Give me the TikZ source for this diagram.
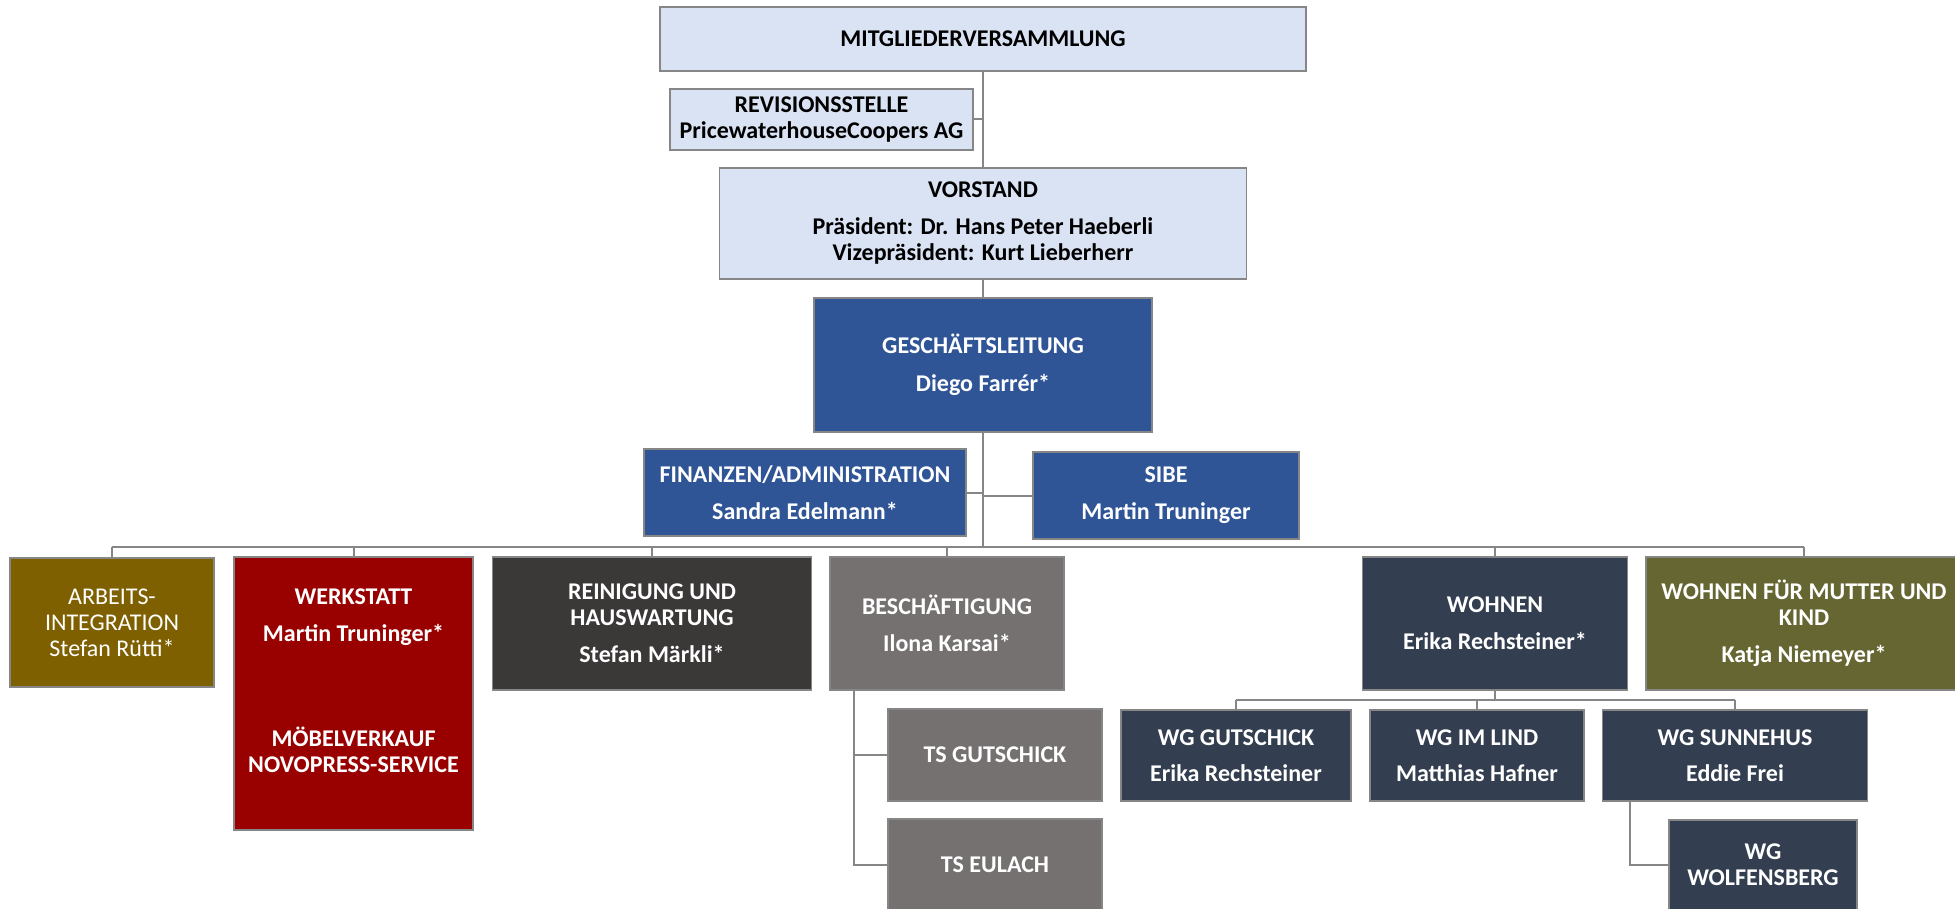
\documentclass[tikz,border=0pt]{standalone}
\usepackage{fontspec}
\setmainfont{Carlito}
\usetikzlibrary{positioning}
\definecolor{hellblau}{HTML}{DAE3F3}
\definecolor{blau}{HTML}{2F5597}
\definecolor{ocker}{HTML}{7F6000}
\definecolor{rot}{HTML}{990000}
\definecolor{anthrazit}{HTML}{3B3838}
\definecolor{grau}{HTML}{767171}
\definecolor{marine}{HTML}{333F50}
\definecolor{oliv}{HTML}{666633}
\definecolor{linie}{HTML}{868686}
\tikzset{
  box/.style={draw=linie, line width=1.5pt, align=center, inner sep=0pt,
    text=white, font=\fontsize{24}{26}\selectfont\bfseries},
  hell/.style={box, fill=hellblau, text=black},
  verb/.style={draw=linie, line width=2pt}
}

\begin{document}
\begin{tikzpicture}[x=1pt, y=-1pt]
    \useasboundingbox (0,0) rectangle (1955,909);

    % Vereinsebene
    \node[hell, minimum width=646pt, minimum height=64pt] (MV) at (983,39) {MITGLIEDERVERSAMMLUNG};
    \node[hell, minimum width=303pt, minimum height=61pt] (REV) at (821.5,119.5) {REVISIONSSTELLE\\PricewaterhouseCoopers AG};
    \node[hell, minimum width=527pt, minimum height=111pt] (VOR) at (983,223.5) {VORSTAND\\[11pt]Präsident: Dr. Hans Peter Haeberli\\Vizepräsident: Kurt Lieberherr};
    \node[box, fill=blau, minimum width=338pt, minimum height=134pt] (GL) at (983,365) {GESCHÄFTSLEITUNG\\[12pt]Diego Farrér*};
    \node[box, fill=blau, minimum width=322pt, minimum height=87pt] (FIN) at (805,492.5) {FINANZEN/ADMINISTRATION\\[11pt]Sandra Edelmann*};
    \node[box, fill=blau, minimum width=266pt, minimum height=87pt] (SIBE) at (1166,495.5) {SIBE\\[11pt]Martin Truninger};

    % Bereiche
    \node[box, fill=ocker, font=\fontsize{24}{26}\selectfont, minimum width=204pt, minimum height=129pt] (ARB) at (112,622.5) {ARBEITS-\\INTEGRATION\\Stefan Rütti*};
    \node[box, fill=rot, minimum width=239pt, minimum height=273pt] (WERK) at (353.5,693.5) {WERKSTATT\\[11pt]Martin Truninger*\\[79pt]MÖBELVERKAUF\\NOVOPRESS-SERVICE\\\mbox{}};
    \node[box, fill=anthrazit, minimum width=319pt, minimum height=133pt] (REIN) at (652,623.5) {REINIGUNG UND\\HAUSWARTUNG\\[11pt]Stefan Märkli*};
    \node[box, fill=grau, minimum width=234pt, minimum height=133pt] (BESCH) at (947,623.5) {BESCHÄFTIGUNG\\[11pt]Ilona Karsai*};
    \node[box, fill=marine, minimum width=265pt, minimum height=133pt] (WOHN) at (1495,623.5) {WOHNEN\\[11pt]Erika Rechsteiner*};
    \node[box, fill=oliv, minimum width=316pt, minimum height=133pt] (MUT) at (1804,623.5) {WOHNEN FÜR MUTTER UND\\KIND\\[11pt]Katja Niemeyer*};

    % Standorte
    \node[box, fill=grau, minimum width=214pt, minimum height=92pt] (TSG) at (995,755) {TS GUTSCHICK};
    \node[box, fill=grau, minimum width=214pt, minimum height=92pt] (TSE) at (995,865) {TS EULACH};
    \node[box, fill=marine, minimum width=230pt, minimum height=91pt] (WGG) at (1236,755.5) {WG GUTSCHICK\\[10pt]Erika Rechsteiner};
    \node[box, fill=marine, minimum width=214pt, minimum height=91pt] (WGL) at (1477,755.5) {WG IM LIND\\[10pt]Matthias Hafner};
    \node[box, fill=marine, minimum width=265pt, minimum height=91pt] (WGS) at (1735,755.5) {WG SUNNEHUS\\[10pt]Eddie Frei};
    \node[box, fill=marine, minimum width=188pt, minimum height=90pt] (WGW) at (1763,865) {WG\\WOLFENSBERG};

    \coordinate (bus) at (983,547);
    \coordinate (wgbus) at (1495,700);

    % Verbindungen
    \path[verb] (MV) -- (VOR) -- (GL)
          (GL.south) -- (bus)
          (REV.east) -- (REV.east -| MV.south)
          (FIN.east) -- (FIN.east -| GL.south)
          (SIBE.west) -- (SIBE.west -| GL.south)
          (ARB.north |- bus) -- (MUT.north |- bus)
          (WOHN.south) -- (wgbus)
          (WGG.north |- wgbus) -- (WGS.north |- wgbus)
          ([xshift=-93pt]BESCH.south) |- (TSE.west)
          (TSG.west) -- ++(-34,0)
          ([xshift=-105pt]WGS.south) |- (WGW.west);
    \foreach \n in {ARB,WERK,REIN,BESCH,WOHN,MUT}
      \draw[verb] (\n.north) -- (\n.north |- bus);
    \foreach \n in {WGG,WGL,WGS}
      \draw[verb] (\n.north) -- (\n.north |- wgbus);
  \end{tikzpicture}
\end{document}
